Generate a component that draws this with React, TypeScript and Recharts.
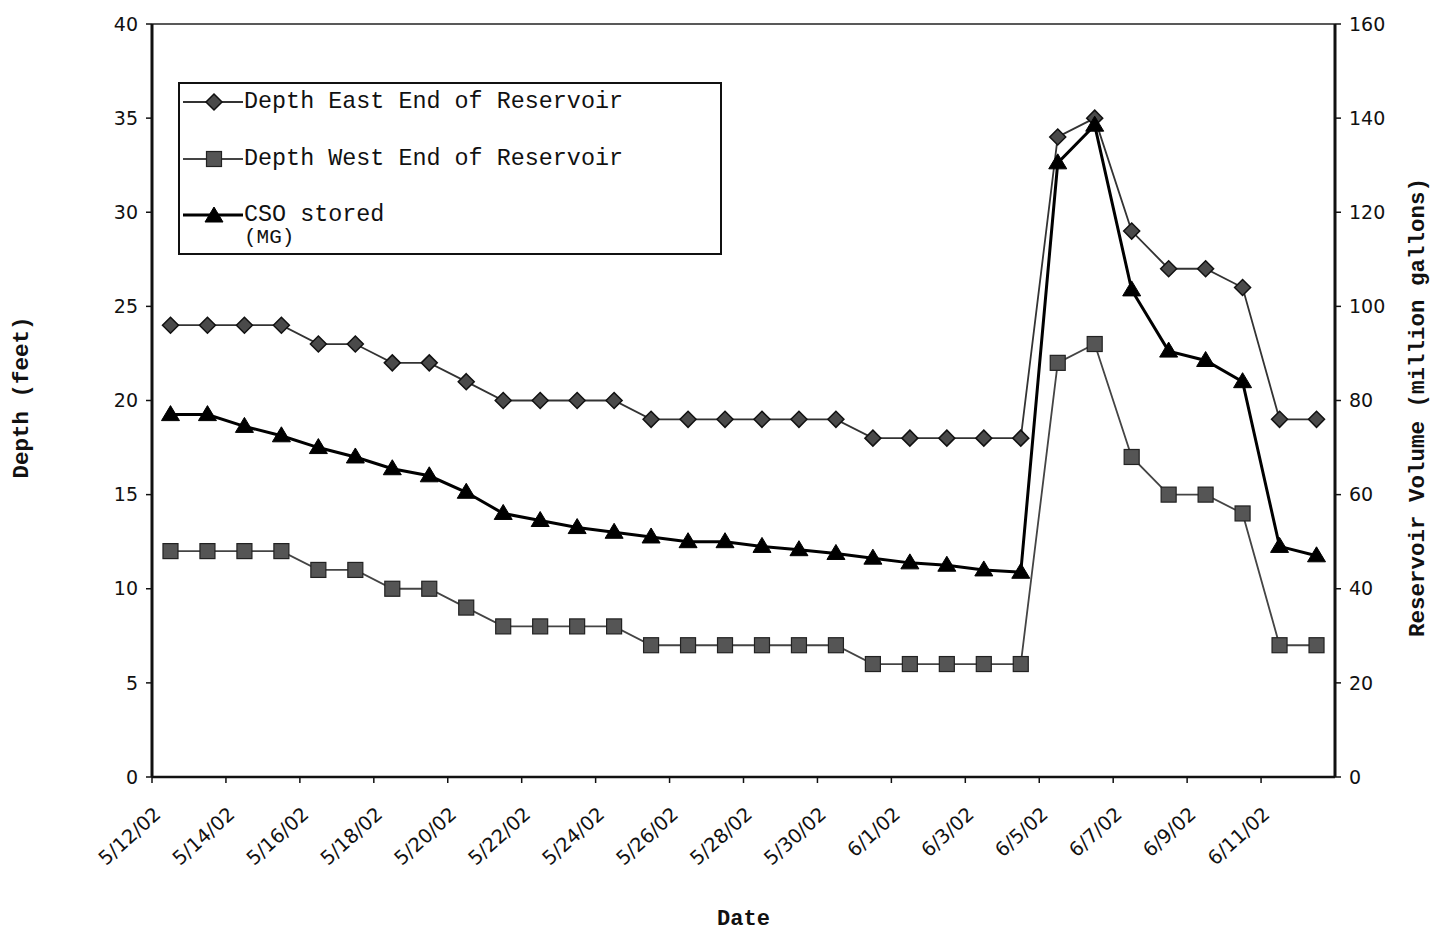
import React from 'react';
import { LineChart, Line, XAxis, YAxis, ReferenceLine } from 'recharts';

const dates = [
  '5/12/02', '5/13/02', '5/14/02', '5/15/02', '5/16/02', '5/17/02', '5/18/02', '5/19/02',
  '5/20/02', '5/21/02', '5/22/02', '5/23/02', '5/24/02', '5/25/02', '5/26/02', '5/27/02',
  '5/28/02', '5/29/02', '5/30/02', '5/31/02', '6/1/02', '6/2/02', '6/3/02', '6/4/02',
  '6/5/02', '6/6/02', '6/7/02', '6/8/02', '6/9/02', '6/10/02', '6/11/02', '6/12/02',
];
const depthEast = [24, 24, 24, 24, 23, 23, 22, 22, 21, 20, 20, 20, 20, 19, 19, 19, 19, 19, 19, 18, 18, 18, 18, 18, 34, 35, 29, 27, 27, 26, 19, 19];
const depthWest = [12, 12, 12, 12, 11, 11, 10, 10, 9, 8, 8, 8, 8, 7, 7, 7, 7, 7, 7, 6, 6, 6, 6, 6, 22, 23, 17, 15, 15, 14, 7, 7];
const csoStored = [77, 77, 74.5, 72.5, 70, 68, 65.5, 64, 60.5, 56, 54.5, 53, 52, 51, 50, 50, 49, 48.3, 47.5, 46.5, 45.5, 45, 44, 43.5, 130.5, 138.5, 103.5, 90.5, 88.5, 84, 49, 47];

const leftTicks = [0, 5, 10, 15, 20, 25, 30, 35, 40];
const rightTicks = [0, 20, 40, 60, 80, 100, 120, 140, 160];
const labelIdx = [0, 2, 4, 6, 8, 10, 12, 14, 16, 18, 20, 22, 24, 26, 28, 30];

const seriesNames = ['Depth East End of Reservoir', 'Depth West End of Reservoir', 'CSO stored'];

const data = dates.map((d, i) => ({ i, date: d, east: depthEast[i], west: depthWest[i], cso: csoStored[i] }));
const xTicks = labelIdx.map((k) => k - 0.5);

const MONO = '"Liberation Mono", "DejaVu Sans Mono", monospace';
const SANS = '"DejaVu Sans", Verdana, sans-serif';

const Diamond = (props: any) => {
  const { cx, cy } = props;
  if (cx == null || cy == null) return null;
  const r = 8;
  return <polygon points={`${cx},${cy - r} ${cx + r},${cy} ${cx},${cy + r} ${cx - r},${cy}`} fill="#4a4a4a" stroke="#111" strokeWidth={1.5} />;
};
const Square = (props: any) => {
  const { cx, cy } = props;
  if (cx == null || cy == null) return null;
  const r = 7.5;
  return <rect x={cx - r} y={cy - r} width={2 * r} height={2 * r} fill="#555" stroke="#222" strokeWidth={1.2} />;
};
const Triangle = (props: any) => {
  const { cx, cy } = props;
  if (cx == null || cy == null) return null;
  return <polygon points={`${cx},${cy - 9} ${cx + 9},${cy + 6} ${cx - 9},${cy + 6}`} fill="#000" stroke="#000" strokeWidth={1} />;
};

const DateTick = (props: any) => {
  const { x, y, payload } = props;
  const idx = Math.round(payload.value + 0.5);
  return (
    <g transform={`translate(${x + 10},${y + 31})`}>
      <text x={0} y={0} textAnchor="end" transform="rotate(-42)" fontFamily={SANS} fontSize={19.5} fill="#111">
        {dates[idx]}
      </text>
    </g>
  );
};

const LeftTitle = (props: any) => {
  const vb = props.viewBox;
  const x = vb.x + 22;
  const y = vb.y + vb.height / 2 - 3;
  return (
    <text x={x} y={y} transform={`rotate(-90 ${x} ${y})`} textAnchor="middle" dominantBaseline="central" fontFamily={MONO} fontWeight="bold" fontSize={22.5} fill="#111">
      Depth (feet)
    </text>
  );
};
const RightTitle = (props: any) => {
  const vb = props.viewBox;
  const x = vb.x + 83;
  const y = vb.y + vb.height / 2 + 7;
  return (
    <text x={x} y={y} transform={`rotate(-90 ${x} ${y})`} textAnchor="middle" dominantBaseline="central" fontFamily={MONO} fontWeight="bold" fontSize={22.5} fill="#111">
      Reservoir Volume (million gallons)
    </text>
  );
};
const BottomTitle = (props: any) => {
  const vb = props.viewBox;
  return (
    <text x={vb.x + vb.width / 2} y={vb.y + 142} textAnchor="middle" dominantBaseline="central" fontFamily={MONO} fontWeight="bold" fontSize={22} fill="#111">
      Date
    </text>
  );
};

const LegendBox = () => {
  const rows = [
    { name: seriesNames[0], y: 18, marker: 'diamond', stroke: '#333', sw: 1.8 },
    { name: seriesNames[1], y: 75, marker: 'square', stroke: '#444', sw: 1.8 },
    { name: seriesNames[2], y: 131, marker: 'triangle', stroke: '#000', sw: 3 },
  ];
  return (
    <div style={{ position: 'absolute', left: 178, top: 82, width: 540, height: 169, border: '2px solid #111', background: '#fff', boxSizing: 'content-box' }}>
      {rows.map((r) => (
        <div key={r.name} style={{ position: 'absolute', left: 0, top: r.y - 14, height: 28, width: 540 }}>
          <svg width={64} height={28} style={{ position: 'absolute', left: 3, top: 0 }}>
            <line x1={0} y1={14} x2={60} y2={14} stroke={r.stroke} strokeWidth={r.sw} />
            {r.marker === 'diamond' && <Diamond cx={31} cy={14} />}
            {r.marker === 'square' && <Square cx={31} cy={14} />}
            {r.marker === 'triangle' && <Triangle cx={31} cy={15} />}
          </svg>
          <div style={{ position: 'absolute', left: 64, top: 0, lineHeight: '28px', fontFamily: MONO, fontSize: 23.4, color: '#111', whiteSpace: 'nowrap' }}>
            {r.name}
          </div>
        </div>
      ))}
      <div style={{ position: 'absolute', left: 64, top: 143, lineHeight: '22px', fontFamily: MONO, fontSize: 21, color: '#111' }}>(MG)</div>
    </div>
  );
};

export default function App() {
  return (
    <div style={{ position: 'absolute', left: 0, top: 0, width: 1431, height: 933, background: '#fff' }}>
      <LineChart width={1431} height={933} data={data} margin={{ top: 24, right: 0, left: 0, bottom: 0 }}>
        <XAxis
          dataKey="i"
          type="number"
          domain={[-0.5, 31.5]}
          ticks={xTicks}
          tick={<DateTick />}
          tickSize={6}
          tickMargin={2}
          height={156}
          axisLine={{ stroke: '#111', strokeWidth: 2.5 }}
          tickLine={{ stroke: '#111', strokeWidth: 1.5 }}
          interval={0}
          allowDataOverflow
          label={<BottomTitle />}
        />
        <YAxis
          yAxisId="left"
          orientation="left"
          domain={[0, 40]}
          ticks={leftTicks}
          width={152}
          tickSize={6}
          tickMargin={8}
          axisLine={{ stroke: '#111', strokeWidth: 3 }}
          tickLine={{ stroke: '#111', strokeWidth: 1.5 }}
          tick={{ fontFamily: SANS, fontSize: 19, fill: '#111' }}
          interval={0}
          label={<LeftTitle />}
        />
        <YAxis
          yAxisId="right"
          orientation="right"
          domain={[0, 160]}
          ticks={rightTicks}
          width={96}
          tickSize={6}
          tickMargin={8}
          axisLine={{ stroke: '#111', strokeWidth: 3 }}
          tickLine={{ stroke: '#111', strokeWidth: 1.5 }}
          tick={{ fontFamily: SANS, fontSize: 19, fill: '#111' }}
          interval={0}
          label={<RightTitle />}
        />
        <ReferenceLine yAxisId="left" y={40} stroke="#222" strokeWidth={1.5} />
        <Line yAxisId="left" dataKey="east" name={seriesNames[0]} stroke="#333" strokeWidth={1.8} dot={<Diamond />} activeDot={false} isAnimationActive={false} />
        <Line yAxisId="left" dataKey="west" name={seriesNames[1]} stroke="#444" strokeWidth={1.8} dot={<Square />} activeDot={false} isAnimationActive={false} />
        <Line yAxisId="right" dataKey="cso" name={seriesNames[2]} stroke="#000" strokeWidth={3} dot={<Triangle />} activeDot={false} isAnimationActive={false} />
      </LineChart>
      <LegendBox />
    </div>
  );
}
